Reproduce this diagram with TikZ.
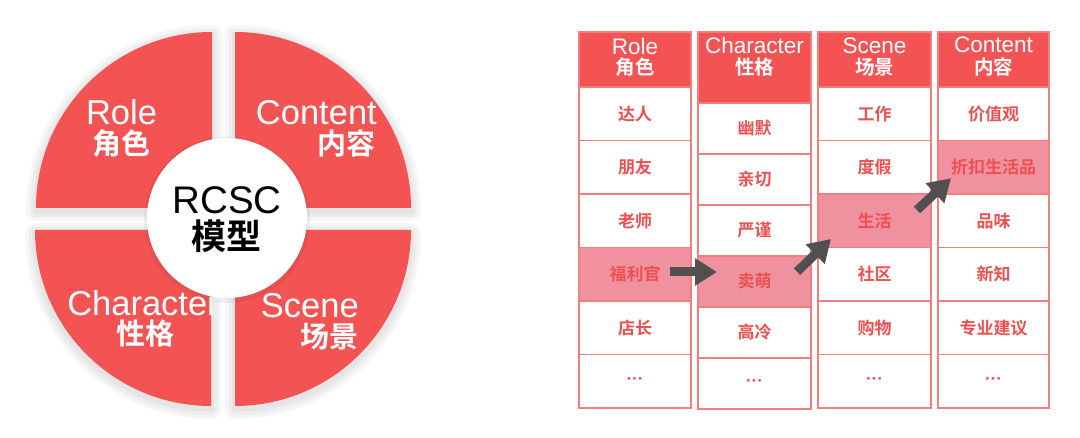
\documentclass[tikz,border=0pt]{standalone}
\usepackage{fontspec}
\setmainfont{Liberation Sans}
\newfontfamily\cjk[BoldFont={Noto Sans CJK SC Bold}]{Noto Sans CJK SC}
\usetikzlibrary{arrows.meta}
\definecolor{qred}{RGB}{244,83,83}
\definecolor{cellline}{RGB}{245,125,125}
\definecolor{celltext}{RGB}{238,80,80}
\definecolor{hl}{RGB}{240,145,160}
\definecolor{agray}{RGB}{80,80,80}
\begin{document}
\begin{tikzpicture}[x=1pt,y=1pt,
  qlat/.style={text=white,font=\fontsize{34.5}{36}\selectfont,inner sep=0pt},
  qcjk/.style={text=white,font=\cjk\bfseries\fontsize{29}{32}\selectfont,inner sep=0pt},
  hlat/.style={text=white,font=\fontsize{22.5}{24}\selectfont,inner sep=0pt},
  hcjk/.style={text=white,font=\cjk\bfseries\fontsize{19.5}{21}\selectfont,inner sep=0pt},
  headbox/.style={fill=qred,draw=cellline,line width=1.3pt,inner sep=0pt},
  cellbox/.style={draw=cellline,line width=1.3pt,inner sep=0pt,text=celltext,font=\cjk\bfseries\fontsize{17}{19}\selectfont},
  arr/.style={draw=agray,line width=9pt,-{Triangle[length=22pt,width=26pt]}}]
\useasboundingbox (0,0) rectangle (1080,438);
% ---- left: exploded pie ----
\foreach \cx/\cy/\sa in {212/230/90, 235/230/0, 211/208/180, 235/208/270} {
  \foreach \lw in {20,13,6}
    \draw[black,opacity=0.035,line width=\lw pt,line join=round]
      (\cx,\cy-3) -- ++(\sa:176) arc[start angle=\sa,end angle=\sa+90,radius=176] -- cycle;
}
\foreach \cx/\cy/\sa in {212/230/90, 235/230/0, 211/208/180, 235/208/270} {
  \fill[qred] (\cx,\cy) -- ++(\sa:176) arc[start angle=\sa,end angle=\sa+90,radius=176] -- cycle;
}
\node[qlat] (roleA) at (121.5,325.5) {Role};
\node[qcjk] (roleB) at (121,294.5) {角色};
\node[qlat,anchor=east] (contA) at (377,325.5) {Content};
\node[qcjk,anchor=east] (contB) at (376,294.5) {内容};
\node[qlat] (charA) at (143,134.5) {Character};
\node[qcjk] (charB) at (145,104.5) {性格};
\node[qlat,anchor=east] (sceneA) at (359,132) {Scene};
\node[qcjk,anchor=east] (sceneB) at (359,101.5) {场景};
\fill[black,opacity=0.05] (227,218) circle (83);
\node[circle,fill=white,minimum size=160pt,inner sep=0pt] (core) at (227,220) {};
\node[text=black,font=\fontsize{38.5}{40}\selectfont,inner sep=0pt] (coreA) at (227,237.5) {RCSC};
\node[text=black,font=\cjk\bfseries\fontsize{35}{37}\selectfont,inner sep=0pt] (coreB) at (226.5,202) {模型};
% ---- right: tables ----
% column 1: Role
\node[headbox,minimum width=112pt,minimum height=55pt] (h1) at (635,378.5) {};
\node[hlat] (h1a) at (635,392) {Role};
\node[hcjk] (h1b) at (635,370.5) {角色};
\foreach \t [count=\i] in {达人,朋友,老师,福利官,店长,{\rmfamily\bfseries ···}} {
  \ifnum\i=4 \def\f{hl}\else\def\f{white}\fi
  \node[cellbox,fill=\f,minimum width=112pt,minimum height=53.5pt] (ra\i) at (635,{351-53.5*(\i-0.5)}) {\t};
}
% column 2: Character
\node[headbox,minimum width=113pt,minimum height=71pt] (h2) at (754.5,370.5) {};
\node[hlat] (h2a) at (754.5,393) {Character};
\node[hcjk] (h2b) at (754.5,371) {性格};
\foreach \t [count=\i] in {幽默,亲切,严谨,卖萌,高冷,{\rmfamily\bfseries ···}} {
  \ifnum\i=4 \def\f{hl}\else\def\f{white}\fi
  \node[cellbox,fill=\f,minimum width=113pt,minimum height=51pt] (rb\i) at (754.5,{335-51*(\i-0.5)}) {\t};
}
% column 3: Scene
\node[headbox,minimum width=113pt,minimum height=55pt] (h3) at (874.5,378.5) {};
\node[hlat] (h3a) at (874.5,392.5) {Scene};
\node[hcjk] (h3b) at (874.5,371) {场景};
\foreach \t [count=\i] in {工作,度假,生活,社区,购物,{\rmfamily\bfseries ···}} {
  \ifnum\i=3 \def\f{hl}\else\def\f{white}\fi
  \node[cellbox,fill=\f,minimum width=113pt,minimum height=53.5pt] (rc\i) at (874.5,{351-53.5*(\i-0.5)}) {\t};
}
% column 4: Content
\node[headbox,minimum width=111pt,minimum height=55pt] (h4) at (993.5,378.5) {};
\node[hlat] (h4a) at (993.5,393) {Content};
\node[hcjk] (h4b) at (993.5,371) {内容};
\foreach \t [count=\i] in {价值观,折扣生活品,品味,新知,专业建议,{\rmfamily\bfseries ···}} {
  \ifnum\i=2 \def\f{hl}\else\def\f{white}\fi
  \node[cellbox,fill=\f,minimum width=111pt,minimum height=53.5pt] (rd\i) at (993.5,{351-53.5*(\i-0.5)}) {\t};
}
% ---- arrows ----
\coordinate (a1s) at (670,166);
\coordinate (a1e) at (717,166);
\coordinate (a2s) at (797,166.3);
\coordinate (a2e) at (831,199);
\coordinate (a3s) at (917,228);
\coordinate (a3e) at (951,259.7);
\draw[arr] (a1s) -- (a1e);
\draw[arr] (a2s) -- (a2e);
\draw[arr] (a3s) -- (a3e);
\end{tikzpicture}
\end{document}
